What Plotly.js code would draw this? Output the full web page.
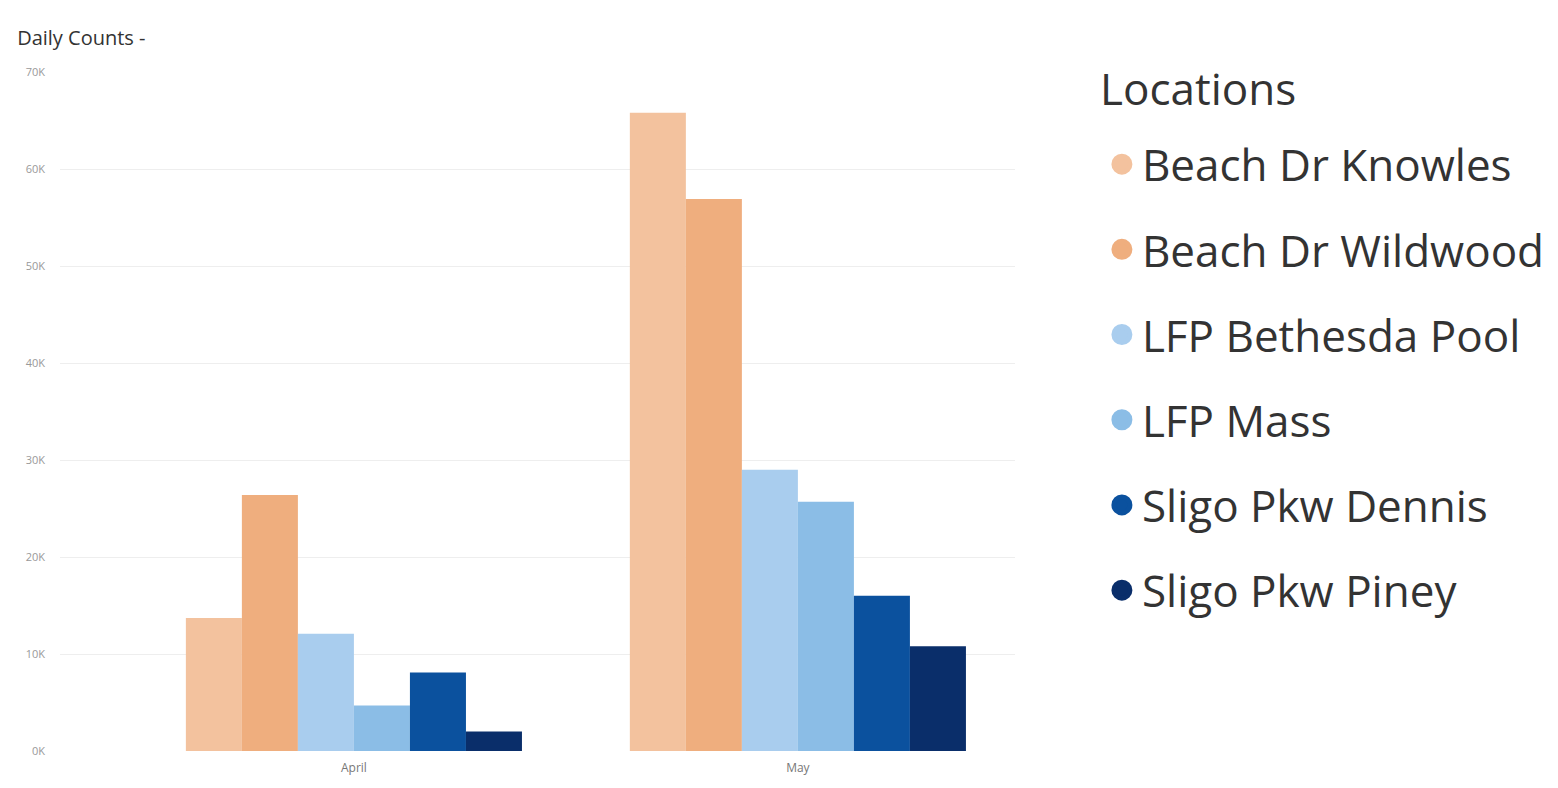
<!DOCTYPE html>
<html>
<head>
<meta charset="utf-8">
<script src="https://cdn.plot.ly/plotly-3.0.1.min.js"></script>
<style>html,body{margin:0;padding:0;background:#fff;}#chart{width:1558px;height:788px;}</style>
</head>
<body>
<div id="chart"></div>
<script>
const months = ["April", "May"];
const locations = ["Beach Dr Knowles", "Beach Dr Wildwood", "LFP Bethesda Pool", "LFP Mass", "Sligo Pkw Dennis", "Sligo Pkw Piney"];
const knowles = [13700, 65800];
const wildwood = [26400, 56900];
const bethesda = [12100, 29000];
const mass = [4700, 25700];
const dennis = [8100, 16000];
const piney = [2000, 10800];
const tickVals = [0, 10000, 20000, 30000, 40000, 50000, 60000, 70000];
const tickText = ["0K", "10K", "20K", "30K", "40K", "50K", "60K", "70K"];
const colors = ["#F3C29E", "#EFAE7E", "#A9CDEE", "#8BBDE6", "#0B519E", "#0A2E6A"];

const series = [knowles, wildwood, bethesda, mass, dennis, piney];
const traces = [];
series.forEach((vals, i) => {
  traces.push({
    type: "bar", x: months, y: vals, name: locations[i],
    marker: {color: colors[i]}, showlegend: false, legendgroup: locations[i],
    hoverinfo: "x+y+name"
  });
});
series.forEach((vals, i) => {
  traces.push({
    type: "scatter", mode: "markers", x: [null], y: [null], name: locations[i],
    marker: {color: colors[i], size: 30, symbol: "circle", line: {color: colors[i], width: 10}},
    legendgroup: locations[i], showlegend: true
  });
});

const layout = {
  width: 1558, height: 788,
  paper_bgcolor: "#fff", plot_bgcolor: "#fff",
  margin: {l: 60, r: 543, t: 72, b: 37, autoexpand: false},
  barmode: "group", bargap: 0.243, bargroupgap: 0,
  font: {family: "Open Sans, sans-serif", color: "#444"},
  title: {text: "Daily Counts - ", x: 0.011, xanchor: "left", y: 0.952, yanchor: "middle",
          font: {size: 20, color: "#333", family: "Open Sans, sans-serif"}},
  xaxis: {type: "category", range: [-0.662, 1.489], showgrid: false, zeroline: false,
          showline: false, ticks: "", tickfont: {size: 12, color: "#777"},
          ticklabelstandoff: 8, fixedrange: true},
  yaxis: {range: [0, 70000], tickvals: tickVals, ticktext: tickText, showgrid: true,
          gridcolor: "#eeeeee", gridwidth: 1, zeroline: false, showline: false,
          tickfont: {size: 11, color: "#999"}, ticklabelstandoff: 14, fixedrange: true},
  annotations: [{
    text: "Locations", xref: "paper", yref: "paper", x: 1.087, y: 0.976,
    xanchor: "left", yanchor: "middle", showarrow: false,
    font: {size: 44, color: "#333", family: "Open Sans, sans-serif"}
  }],
  showlegend: true,
  legend: {x: 1.091, xanchor: "left", y: 0.916, yanchor: "top",
           font: {size: 44, color: "#333"}, itemsizing: "trace", tracegroupgap: 25,
           itemwidth: 30, maxheight: 760, bgcolor: "rgba(0,0,0,0)"}
};
Plotly.newPlot("chart", traces, layout, {displayModeBar: false, staticPlot: true});
</script>
</body>
</html>
